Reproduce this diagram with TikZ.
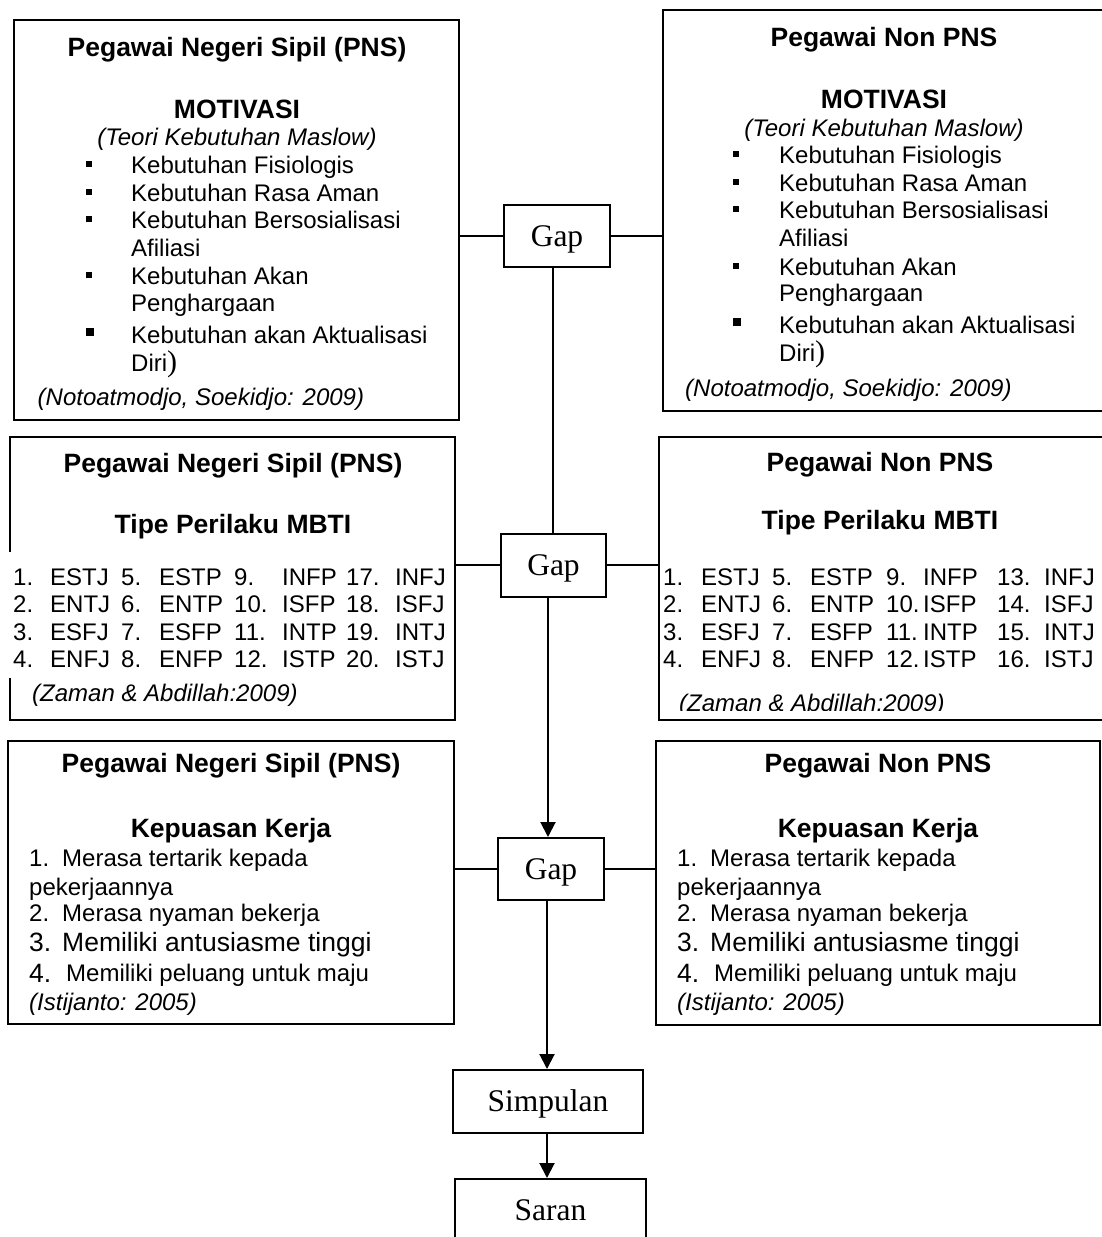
\documentclass[tikz,border=0pt]{standalone}
\usepackage{fontspec}
\setmainfont{Liberation Sans}
\newfontfamily\serifface{Liberation Serif}
\usetikzlibrary{arrows.meta}
\tikzset{
  box/.style={draw, line width=2pt, inner sep=0pt},
  gapbox/.style={box, minimum width=106pt, minimum height=62pt, text height=20.5pt, text depth=0pt, font=\serifface\fontsize{31.5}{34}\selectfont},
  tl/.style={inner sep=0pt, anchor=west, text height=17.2pt, text depth=0pt, font=\fontsize{24}{28}\selectfont},
  tli/.style={tl, font=\fontsize{24}{28}\selectfont\itshape},
  tlb/.style={tl, text height=19pt, font=\fontsize{26.5}{30}\selectfont},
  hd/.style={inner sep=0pt, anchor=center, text height=19pt, text depth=0pt, font=\fontsize{26.5}{30}\selectfont\bfseries},
  hdi/.style={inner sep=0pt, anchor=center, text height=17.2pt, text depth=0pt, font=\fontsize{24}{28}\selectfont\itshape},
  bul/.style={fill=black, inner sep=0pt, minimum size=6pt},
  bulbig/.style={fill=black, inner sep=0pt, minimum size=8pt},
  conn/.style={line width=2pt},
  arr/.style={conn, -{Triangle[length=15pt,width=15pt]}},
}
\newcommand\bigparen{{\serifface\fontsize{30}{30}\selectfont )}}
\begin{document}
\begin{tikzpicture}[x=1pt, y=-1pt]
\useasboundingbox (0,0) rectangle (1102,1237);
\clip (0,0) rectangle (1102,1237);
\fill[white] (0,0) rectangle (1102,1237);

% ---------- boxes ----------
\node[box, minimum width=445pt, minimum height=400pt] (b1) at (236.5,220) {};
\node[box, minimum width=447pt, minimum height=401pt] (b2) at (886.5,210.5) {};
\node[box, minimum width=445pt, minimum height=283pt] (b3) at (232.5,578.5) {};
\node[box, minimum width=449pt, minimum height=283pt] (b4) at (883.5,578.5) {};
\node[box, minimum width=446pt, minimum height=283pt] (b5) at (231,882.5) {};
\node[box, minimum width=444pt, minimum height=284pt] (b6) at (878,883) {};
\fill[white] (8,552) rectangle (13,678);

\node[gapbox] (g1) at (557,236) {Gap};
\node[gapbox, minimum width=105pt, minimum height=63pt] (g2) at (553.5,565) {Gap};
\node[gapbox] (g3) at (551,869) {Gap};
\node[gapbox, minimum width=190pt, minimum height=63pt] (simp) at (548,1101.5) {Simpulan};
\node[gapbox, minimum width=191pt, minimum height=62pt] (saran) at (550.5,1210) {Saran};

% ---------- connectors ----------
\coordinate (v1) at (553,0);
\coordinate (v2) at (548,0);
\coordinate (v3) at (547,0);
\draw[conn] (g1.west) -- (g1.west -| b1.east);
\draw[conn] (g1.east) -- (g1.east -| b2.west);
\draw[conn] (g2.west) -- (g2.west -| b3.east);
\draw[conn] (g2.east) -- (g2.east -| b4.west);
\draw[conn] (g3.west) -- (g3.west -| b5.east);
\draw[conn] (g3.east) -- (g3.east -| b6.west);
\draw[conn] (g1.south -| v1) -- (g2.north -| v1);
\draw[arr] (g2.south -| v2) -- (g3.north -| v2);
\draw[arr] (g3.south -| v3) -- (simp.north -| v3);
\draw[arr] (simp.south -| v3) -- (saran.north -| v3);

% ---------- box 1: PNS motivasi ----------
\node[hd] (t1) at (237,47) {Pegawai Negeri Sipil (PNS)};
\node[hd] (m1) at (237,108.5) {MOTIVASI};
\node[hdi] (th1) at (237,137) {(Teori Kebutuhan Maslow)};
\node[bul] (k1a) at (89,164) {};
\node[tl] (l1a) at (131,165) {Kebutuhan Fisiologis};
\node[bul] (k1b) at (89,192) {};
\node[tl] (l1b) at (131,193) {Kebutuhan Rasa Aman};
\node[bul] (k1c) at (89,219) {};
\node[tl] (l1c) at (131,220) {Kebutuhan Bersosialisasi};
\node[tl] (l1d) at (131,248) {Afiliasi};
\node[bul] (k1e) at (89,275) {};
\node[tl] (l1e) at (131,276) {Kebutuhan Akan};
\node[tl] (l1f) at (131,303) {Penghargaan};
\node[bulbig] (k1g) at (90,332) {};
\node[tl] (l1g) at (131,335) {Kebutuhan akan Aktualisasi};
\node[tl] (l1h) at (131,363) {Diri\bigparen};
\node[tli] (s1) at (37.5,397) {(Notoatmodjo, Soekidjo: 2009)};

% ---------- box 2: Non PNS motivasi ----------
\node[hd] (t2) at (884,37) {Pegawai Non PNS};
\node[hd] (m2) at (884,98.5) {MOTIVASI};
\node[hdi] (th2) at (884,128) {(Teori Kebutuhan Maslow)};
\node[bul] (k2a) at (736,154) {};
\node[tl] (l2a) at (779,155) {Kebutuhan Fisiologis};
\node[bul] (k2b) at (736,182) {};
\node[tl] (l2b) at (779,183) {Kebutuhan Rasa Aman};
\node[bul] (k2c) at (736,209) {};
\node[tl] (l2c) at (779,210) {Kebutuhan Bersosialisasi};
\node[tl] (l2d) at (779,238) {Afiliasi};
\node[bul] (k2e) at (736,266) {};
\node[tl] (l2e) at (779,267) {Kebutuhan Akan};
\node[tl] (l2f) at (779,293) {Penghargaan};
\node[bulbig] (k2g) at (737,322) {};
\node[tl] (l2g) at (779,325) {Kebutuhan akan Aktualisasi};
\node[tl] (l2h) at (779,353) {Diri\bigparen};
\node[tli] (s2) at (685,388) {(Notoatmodjo, Soekidjo: 2009)};

% ---------- box 3: PNS MBTI ----------
\node[hd] (t3) at (233,463) {Pegawai Negeri Sipil (PNS)};
\node[hd] (m3) at (233,524) {Tipe Perilaku MBTI};
\foreach \y/\a/\b/\c/\d/\e/\f/\g/\h [count=\r] in
  {577/1./ESTJ/5./ESTP/9./INFP/17./INFJ,
   604/2./ENTJ/6./ENTP/10./ISFP/18./ISFJ,
   632/3./ESFJ/7./ESFP/11./INTP/19./INTJ,
   659/4./ENFJ/8./ENFP/12./ISTP/20./ISTJ}{
  \node[tl] (pa\r) at (13,\y) {\a};
  \node[tl] (pb\r) at (50,\y) {\b};
  \node[tl] (pc\r) at (121,\y) {\c};
  \node[tl] (pd\r) at (159,\y) {\d};
  \node[tl] (pe\r) at (234,\y) {\e};
  \node[tl] (pf\r) at (282,\y) {\f};
  \node[tl] (pg\r) at (346,\y) {\g};
  \node[tl] (ph\r) at (395,\y) {\h};
}
\node[tli] (s3) at (32,693) {(Zaman \& Abdillah:2009)};

% ---------- box 4: Non PNS MBTI ----------
\node[hd] (t4) at (880,462) {Pegawai Non PNS};
\node[hd] (m4) at (880,520) {Tipe Perilaku MBTI};
\foreach \y/\a/\b/\c/\d/\e/\f/\g/\h [count=\r] in
  {577/1./ESTJ/5./ESTP/9./INFP/13./INFJ,
   604/2./ENTJ/6./ENTP/10./ISFP/14./ISFJ,
   632/3./ESFJ/7./ESFP/11./INTP/15./INTJ,
   659/4./ENFJ/8./ENFP/12./ISTP/16./ISTJ}{
  \node[tl] (qa\r) at (663,\y) {\a};
  \node[tl] (qb\r) at (701,\y) {\b};
  \node[tl] (qc\r) at (772,\y) {\c};
  \node[tl] (qd\r) at (810,\y) {\d};
  \node[tl] (qe\r) at (886,\y) {\e};
  \node[tl] (qf\r) at (923,\y) {\f};
  \node[tl] (qg\r) at (997,\y) {\g};
  \node[tl] (qh\r) at (1044,\y) {\h};
}
\begin{scope}
  \clip (660,438) rectangle (1102,710);
  \node[tli] (s4) at (679,703) {(Zaman \& Abdillah:2009)};
\end{scope}

% ---------- box 5: PNS kepuasan ----------
\node[hd] (t5) at (231,763) {Pegawai Negeri Sipil (PNS)};
\node[hd] (m5) at (231,828) {Kepuasan Kerja};
\node[tl] (n5a) at (29,858) {1.};
\node[tl] (l5a) at (62,858) {Merasa tertarik kepada};
\node[tl] (l5b) at (29,887) {pekerjaannya};
\node[tl] (n5c) at (29,913) {2.};
\node[tl] (l5c) at (62,913) {Merasa nyaman bekerja};
\node[tlb] (n5d) at (29,942) {3.};
\node[tlb] (l5d) at (62,942) {Memiliki antusiasme tinggi};
\node[tlb] (n5e) at (29,973) {4.};
\node[tl] (l5e) at (66,973) {Memiliki peluang untuk maju};
\node[tli] (s5) at (29,1002) {(Istijanto: 2005)};

% ---------- box 6: Non PNS kepuasan ----------
\node[hd] (t6) at (878,763) {Pegawai Non PNS};
\node[hd] (m6) at (878,828) {Kepuasan Kerja};
\node[tl] (n6a) at (677,858) {1.};
\node[tl] (l6a) at (710,858) {Merasa tertarik kepada};
\node[tl] (l6b) at (677,887) {pekerjaannya};
\node[tl] (n6c) at (677,913) {2.};
\node[tl] (l6c) at (710,913) {Merasa nyaman bekerja};
\node[tlb] (n6d) at (677,942) {3.};
\node[tlb] (l6d) at (710,942) {Memiliki antusiasme tinggi};
\node[tlb] (n6e) at (677,973) {4.};
\node[tl] (l6e) at (714,973) {Memiliki peluang untuk maju};
\node[tli] (s6) at (677,1002) {(Istijanto: 2005)};
\end{tikzpicture}
\end{document}
